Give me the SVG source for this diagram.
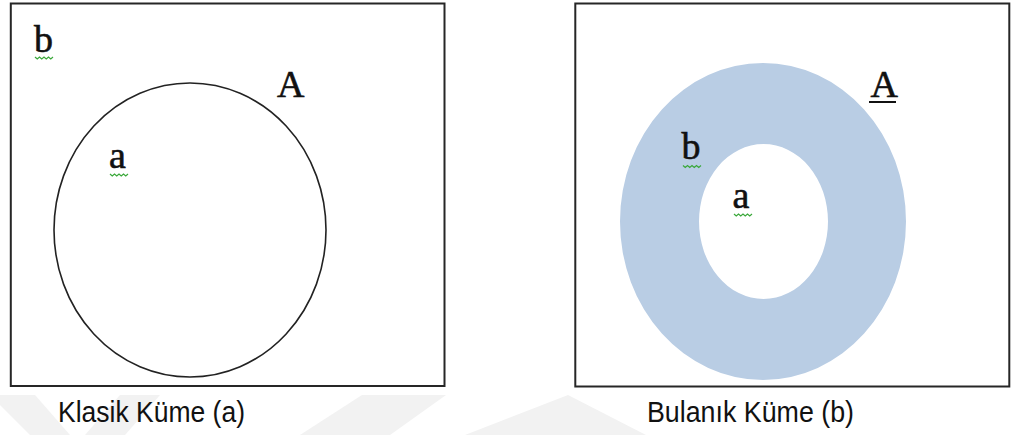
<svg xmlns="http://www.w3.org/2000/svg" width="1013" height="435" viewBox="0 0 1013 435">
<style>
.box{fill:#fff;stroke:#262626;stroke-width:2}
.lbl{font-family:"Liberation Serif",serif;font-size:38px;fill:#111;stroke:#111;stroke-width:0.6}
.cap{font-family:"Liberation Sans",Arial,sans-serif;font-size:30px;fill:#111}
.sq{fill:none;stroke:#3aa83a;stroke-width:1.2}
.wm{fill:#f2f2f2}
</style>
<rect width="1013" height="435" fill="#fff"/>
<g id="watermark">
<polygon class="wm" points="0,395 35,395 70,435 30,435 0,405"/>
<polygon class="wm" points="120,395 160,395 125,435 85,435"/>
<polygon class="wm" points="362,395 446,395 390,435 300,435"/>
<polygon class="wm" points="568,395 646,435 465,435"/>
</g>
<g id="classic-set">
<rect class="box" x="10.8" y="3.5" width="433.7" height="382.5"/>
<ellipse cx="190" cy="230" rx="136" ry="147" fill="none" stroke="#222" stroke-width="1.6"/>
<text class="lbl" x="34" y="51.5">b</text>
<polyline class="sq" points="35,57 37.25,59 39.5,57 41.75,59 44,57 46.25,59 48.5,57 50.75,59 53,57"/>
<text class="lbl" x="277" y="97">A</text>
<text class="lbl" x="109" y="168">a</text>
<polyline class="sq" points="110,174 112.25,176 114.5,174 116.75,176 119,174 121.25,176 123.5,174 125.75,176 128,174"/>
<text class="cap" x="58" y="422" textLength="187" lengthAdjust="spacingAndGlyphs">Klasik Küme (a)</text>
</g>
<g id="fuzzy-set">
<rect class="box" x="575.3" y="3.5" width="434" height="383"/>
<path fill="#b9cde4" fill-rule="evenodd" d="M620,221.5 A143,158.5 0 1 0 906,221.5 A143,158.5 0 1 0 620,221.5 Z M699,221.5 A64.5,77.5 0 1 0 828,221.5 A64.5,77.5 0 1 0 699,221.5 Z"/>
<text class="lbl" x="681.5" y="159">b</text>
<polyline class="sq" points="683,165.5 685.25,167.5 687.5,165.5 689.75,167.5 692,165.5 694.25,167.5 696.5,165.5 698.75,167.5 701,165.5"/>
<text class="lbl" x="732.5" y="208">a</text>
<polyline class="sq" points="734,214 736.25,216 738.5,214 740.75,216 743,214 745.25,216 747.5,214 749.75,216 752,214"/>
<text class="lbl" x="870.5" y="96.7">A</text>
<line x1="869" y1="102" x2="896" y2="102" stroke="#111" stroke-width="2"/>
<text class="cap" x="647" y="422" textLength="207" lengthAdjust="spacingAndGlyphs">Bulanık Küme (b)</text>
</g>
</svg>
